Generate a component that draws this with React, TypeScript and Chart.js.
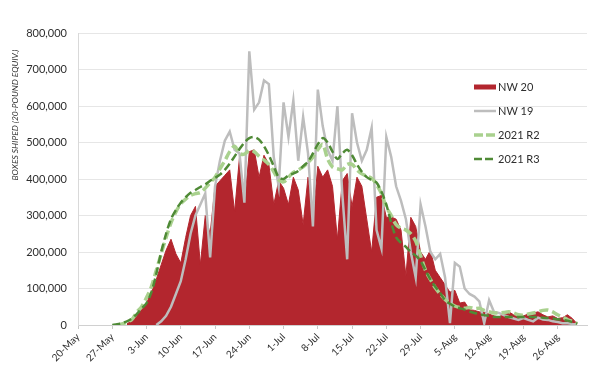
import React, { useEffect, useRef } from 'react';
import { Chart, registerables } from 'chart.js';

Chart.register(...registerables);

// ---- data (values in thousands of boxes) ----
const MONTHS = ['Jan', 'Feb', 'Mar', 'Apr', 'May', 'Jun', 'Jul', 'Aug', 'Sep', 'Oct', 'Nov', 'Dec'];
const DAY_COUNT = 105; // 20-May .. 1-Sep
const categories: string[] = Array.from({ length: DAY_COUNT }, (_, i) => {
  const d = new Date(2020, 4, 20 + i);
  return `${d.getDate()}-${MONTHS[d.getMonth()]}`;
});

const N = null;

const nw20: (number | null)[] = [
  N, N, N, N, N, N, N, N, N, N,
  3, 12, 25, 45, 60, 90, 125, 165, 205, 235,
  195, 170, 240, 300, 325, 165, 300, 250, 380, 395,
  410, 425, 310, 460, 330, 475, 480, 405, 465, 440,
  330, 395, 375, 330, 405, 370, 275, 405, 290, 435,
  405, 425, 380, 235, 395, 415, 325, 405, 380, 290,
  200, 350, 355, 295, 296, 290, 260, 135, 295, 270,
  200, 180, 205, 150, 130, 110, 90, 95, 60, 63,
  42, 40, 36, 35, 30, 25, 22, 30, 36, 28,
  22, 25, 30, 33, 36, 28, 22, 25, 18, 20,
  28, 18, 3, N, N,
];

const nw19: (number | null)[] = [
  N, N, N, N, N, N, N, N, N, N,
  N, N, N, N, N, N, 0, 10, 25, 50,
  85, 120, 180, 250, 300, 330, 360, 185, 380, 450,
  505, 530, 480, 470, 335, 750, 590, 610, 670, 660,
  460, 380, 610, 515, 615, 450, 570, 470, 270, 645,
  545, 480, 450, 600, 360, 180, 580, 500, 450, 480,
  540, 260, 210, 515, 460, 380, 340, 290, 200, 130,
  330, 270, 200, 180, 195, 130, 5, 170, 160, 100,
  85, 78, 65, 5, 68, 36, 33, 27, 22, 18,
  14, 19, 14, 10, 20, 15, 14, 10, 8, 5,
  5, 3, 2, N, N,
];

const r2021R2: (number | null)[] = [
  N, N, N, N, N, N, N, N, 0, 3,
  8, 15, 35, 50, 75, 105, 150, 195, 240, 280,
  310, 332, 345, 355, 360, 363, 375, 390, 405, 428,
  450, 475, 490, 470, 468, 478, 475, 462, 452, 440,
  420, 398, 392, 405, 418, 425, 433, 445, 460, 480,
  495, 455, 433, 428, 425, 440, 440, 425, 414, 408,
  402, 385, 360, 323, 300, 275, 265, 260, 250, 230,
  190, 150, 125, 102, 85, 70, 60, 52, 48, 46,
  48, 45, 46, 40, 36, 33, 33, 34, 36, 33,
  28, 27, 30, 33, 36, 40, 41, 36, 28, 22,
  15, 10, 4, N, N,
];

const r2021R3: (number | null)[] = [
  N, N, N, N, N, N, N, 0, 2, 5,
  10, 18, 30, 45, 60, 90, 140, 200, 250, 290,
  315, 335, 350, 362, 370, 378, 385, 395, 403, 412,
  425, 442, 462, 482, 500, 512, 515, 508, 490, 465,
  435, 405, 400, 410, 415, 422, 435, 448, 470, 495,
  512, 500, 475, 455, 470, 480, 465, 440, 420, 405,
  397, 390, 365, 330, 280, 240, 225, 214, 200, 190,
  175, 150, 125, 105, 88, 68, 58, 50, 46, 42,
  37, 33, 30, 27, 25, 22, 22, 22, 22, 22,
  22, 22, 22, 22, 22, 20, 19, 18, 16, 14,
  12, 8, 4, N, N,
];

const yMax = 800;
const yStep = 100;
const yTitle = 'BOXES SHIPED (20-POUND EQUIV.)';

const RED = '#b3262e';
const GRAY = '#bdbdbd';
const LIGHT_GREEN = '#a9d18e';
const DARK_GREEN = '#4f8a36';
const TEXT = '#2e2e2e';
const FONT = 'Lato, "Liberation Sans", sans-serif';

const legendItems = [
  { label: 'NW 20', kind: 'rect', color: RED },
  { label: 'NW 19', kind: 'line', color: GRAY, width: 2.5, dash: [] as number[] },
  { label: '2021 R2', kind: 'line', color: LIGHT_GREEN, width: 3.5, dash: [9, 3] },
  { label: '2021 R3', kind: 'line', color: DARK_GREEN, width: 2.5, dash: [8, 3] },
];

const overlayPlugin = {
  id: 'overlay',
  afterDraw(chart: any) {
    const ctx = chart.ctx as CanvasRenderingContext2D;
    const area = chart.chartArea;
    // y-axis title
    ctx.save();
    ctx.translate(15, 115);
    ctx.rotate(-Math.PI / 2);
    ctx.font = `italic 8.5px ${FONT}`;
    ctx.fillStyle = TEXT;
    ctx.textAlign = 'center';
    ctx.textBaseline = 'middle';
    ctx.fillText(yTitle, 0, 0);
    ctx.restore();

    // legend inside plot area
    ctx.save();
    const x0 = area.right - 113;
    legendItems.forEach((it, i) => {
      const y = area.top + 54 + i * 24;
      if (it.kind === 'rect') {
        ctx.fillStyle = it.color;
        ctx.fillRect(x0, y - 2.5, 22, 5);
      } else {
        ctx.strokeStyle = it.color;
        ctx.lineWidth = it.width as number;
        ctx.setLineDash(it.dash as number[]);
        ctx.beginPath();
        ctx.moveTo(x0, y);
        ctx.lineTo(x0 + 22, y);
        ctx.stroke();
        ctx.setLineDash([]);
      }
      ctx.fillStyle = TEXT;
      ctx.font = `11px ${FONT}`;
      ctx.textAlign = 'left';
      ctx.textBaseline = 'middle';
      ctx.fillText(it.label, x0 + 24, y + 0.5);
    });
    ctx.restore();
  },
};

export default function App() {
  const ref = useRef<HTMLCanvasElement | null>(null);

  useEffect(() => {
    document.body.style.margin = '0';
    if (!ref.current) return;
    const chart = new Chart(ref.current, {
      type: 'line',
      data: {
        labels: categories,
        datasets: [
          {
            label: 'NW 20',
            data: nw20,
            borderColor: RED,
            backgroundColor: RED,
            borderWidth: 1,
            fill: 'origin',
            pointRadius: 0,
            tension: 0,
            order: 4,
          },
          {
            label: 'NW 19',
            data: nw19,
            borderColor: GRAY,
            borderWidth: 2.5,
            fill: false,
            pointRadius: 0,
            tension: 0,
            order: 3,
          },
          {
            label: '2021 R2',
            data: r2021R2,
            borderColor: LIGHT_GREEN,
            borderWidth: 3.5,
            borderDash: [9, 4],
            fill: false,
            pointRadius: 0,
            tension: 0.3,
            order: 2,
          },
          {
            label: '2021 R3',
            data: r2021R3,
            borderColor: DARK_GREEN,
            borderWidth: 2.5,
            borderDash: [8, 4],
            fill: false,
            pointRadius: 0,
            tension: 0.3,
            order: 1,
          },
        ],
      },
      options: {
        responsive: false,
        animation: false,
        maintainAspectRatio: false,
        layout: { padding: { top: 33, right: 13, left: 0, bottom: 0 } },
        plugins: {
          legend: { display: false },
          tooltip: { enabled: false },
        },
        scales: {
          x: {
            type: 'category',
            offset: false,
            border: { display: true, color: '#d0d0d0', width: 1 },
            grid: {
              display: true,
              drawOnChartArea: false,
              drawTicks: true,
              tickLength: 4,
              color: (c: any) => (c.index % 7 === 0 ? '#c8c8c8' : 'rgba(0,0,0,0)'),
            },
            ticks: {
              autoSkip: false,
              maxRotation: 45,
              minRotation: 45,
              padding: 2,
              color: TEXT,
              font: { family: FONT, size: 10 },
              callback: (_v: any, i: number) => (i % 7 === 0 ? categories[i] : ''),
            },
            afterFit: (s: any) => {
              s.height = 58;
            },
          },
          y: {
            min: 0,
            max: yMax,
            border: { display: true, color: '#d9d9d9', width: 1 },
            grid: { color: '#e6e6e6', drawTicks: false, lineWidth: 1 },
            ticks: {
              stepSize: yStep,
              padding: 11,
              color: TEXT,
              font: { family: FONT, size: 11 },
              callback: (v: any) => (Number(v) * 1000).toLocaleString('en-US'),
            },
            afterFit: (s: any) => {
              s.width = 78;
            },
          },
        },
      },
      plugins: [overlayPlugin],
    });
    return () => chart.destroy();
  }, []);

  return (
    <div style={{ width: 600, height: 383, position: 'relative', background: '#fff' }}>
      <canvas ref={ref} width={600} height={383} style={{ display: 'block' }} />
    </div>
  );
}
